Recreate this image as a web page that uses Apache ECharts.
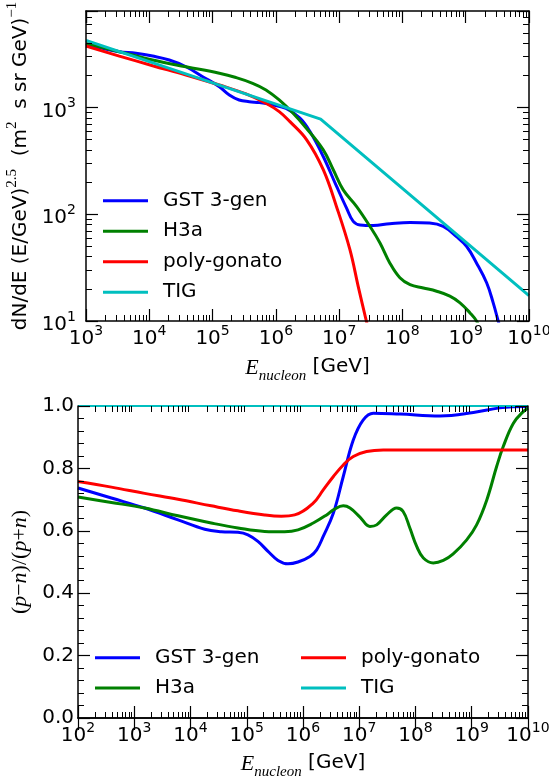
<!DOCTYPE html>
<html><head><meta charset="utf-8">
<script src="https://cdn.jsdelivr.net/npm/echarts@6/dist/echarts.min.js"></script>
<style>html,body{margin:0;padding:0;background:#fff}#c{width:549px;height:780px}</style>
</head><body><div id="c"></div>
<script>
// ---------- data ----------
const seriesNames = ['GST 3-gen', 'H3a', 'poly-gonato', 'TIG'];
const seriesColors = ['#0000ff', '#008000', '#ff0000', '#00bfbf'];

// top panel: E_nucleon [GeV] vs dN/dE (E/GeV)^2.5
const gstTopE = [1e3, 1.83e3, 3.36e3, 6.17e3, 1.13e4, 2.07e4, 3.8e4, 6.97e4, 1.28e5, 1.84e5, 2.63e5, 3.8e5, 5.5e5, 8.91e5, 1.45e6, 2.4e6, 3.46e6, 5.61e6, 9.12e6, 1.31e7, 1.67e7, 2.14e7, 3.47e7, 6.31e7, 1.32e8, 2.69e8, 4.42e8, 7.16e8, 1.03e9, 1.48e9, 2.14e9, 2.72e9, 3.26e9, 3.8e9];
const gstTopF = [3920, 3573, 3327, 3214, 3027, 2780, 2404, 1941, 1563, 1309, 1175, 1132, 1109, 1054, 977, 793, 594, 347, 182, 114, 85.7, 79.4, 78.5, 81.5, 83.8, 82.8, 76.9, 61.7, 50.1, 35.0, 22.8, 14.8, 10.0, 7.1];
const h3aTopE = [1e3, 3.36e3, 1.13e4, 3.8e4, 1.28e5, 2.34e5, 4.3e5, 6.98e5, 1.13e6, 1.84e6, 2.99e6, 5.61e6, 8.07e6, 1.16e7, 1.89e7, 3.07e7, 4.42e7, 6.31e7, 9.12e7, 1.32e8, 2.14e8, 3.47e8, 5.62e8, 8.13e8, 1.17e9, 1.48e9, 1.74e9];
const h3aTopF = [3981, 3327, 2780, 2404, 2089, 1905, 1683, 1459, 1175, 891, 646, 401, 261, 169, 118, 76.9, 53.8, 35.0, 25.4, 21.9, 20.4, 19.0, 17.1, 14.8, 11.9, 10.0, 7.9];
const pgTopE = [1e3, 3.36e3, 1.13e4, 3.8e4, 1.28e5, 3.37e5, 6.97e5, 1.13e6, 1.67e6, 3.07e6, 5.61e6, 9.12e6, 1.48e7, 2.0e7, 2.69e7, 3.16e7];
const pgTopF = [3758, 3027, 2460, 2014, 1622, 1337, 1094, 914, 736, 497, 261, 117, 46.6, 21.1, 10.0, 6.8];
const tigTopE = [1e3, 5.1e6, 1e10];
const tigTopF = [4250, 776, 17.3];

// bottom panel: E_nucleon [GeV] vs (p-n)/(p+n)
const gstBotE = [1e2, 3.92e2, 1.53e3, 6.0e3, 1.79e4, 3.53e4, 6.98e4, 1.05e5, 1.58e5, 2.39e5, 3.6e5, 5.41e5, 8.15e5, 1.33e6, 1.75e6, 2.29e6, 3.47e6, 5.2e6, 7.83e6, 1.17e7, 1.78e7, 5.3e7, 2.73e8, 1.07e9, 3.16e9, 1e10];
const gstBotV = [0.737, 0.705, 0.673, 0.635, 0.605, 0.597, 0.595, 0.587, 0.566, 0.534, 0.505, 0.494, 0.500, 0.518, 0.539, 0.582, 0.657, 0.774, 0.891, 0.955, 0.977, 0.974, 0.968, 0.979, 0.994, 0.998];
const h3aBotE = [1e2, 3.92e2, 1.53e3, 6.0e3, 2.34e4, 6.98e4, 2.08e5, 4.72e5, 8.15e5, 1.52e6, 2.63e6, 3.47e6, 5.2e6, 6.85e6, 1.03e7, 1.55e7, 2.04e7, 3.07e7, 4.61e7, 6.03e7, 7.94e7, 1.05e8, 1.38e8, 2.07e8, 3.12e8, 4.68e8, 8.13e8, 1.22e9, 1.85e9, 2.77e9, 3.63e9, 5.5e9, 8.24e9, 1e10];
const h3aBotV = [0.708, 0.691, 0.673, 0.648, 0.625, 0.609, 0.598, 0.597, 0.603, 0.625, 0.651, 0.667, 0.680, 0.673, 0.644, 0.614, 0.619, 0.651, 0.673, 0.662, 0.609, 0.550, 0.513, 0.497, 0.505, 0.526, 0.571, 0.619, 0.699, 0.806, 0.870, 0.945, 0.982, 0.993];
const pgBotE = [1e2, 3.92e2, 1.53e3, 6.0e3, 2.34e4, 6.98e4, 2.08e5, 4.12e5, 7.11e5, 1.52e6, 2.29e6, 3.47e6, 5.2e6, 7.83e6, 1.35e7, 2.67e7, 2e8, 1.6e9, 1e10];
const pgBotV = [0.758, 0.740, 0.720, 0.701, 0.680, 0.664, 0.651, 0.647, 0.651, 0.689, 0.731, 0.774, 0.811, 0.838, 0.854, 0.859, 0.859, 0.859, 0.859];
const tigBotE = [1e2, 1e10];
const tigBotV = [1.0, 1.0];

// axis ranges / ticks
const topXRange = [1e3, 1e10];
const topYRange = [10, 8000];
const botXRange = [1e2, 1e10];
const botYRange = [0, 1];
const minorMultipliers = [2, 3, 4, 5, 6, 7, 8, 9];

// ---------- helpers ----------
const pairs = (xs, ys) => xs.map((x, i) => [x, ys[i]]);
function minorTicks(lo, hi) {
  const out = [];
  for (let d = lo; d < hi; d *= 10) minorMultipliers.forEach(m => { if (d * m < hi) out.push(d * m); });
  return out;
}
function powLabel(v) {
  const l = Math.log10(v), e = Math.round(l);
  if (Math.abs(l - e) > 1e-6) return '';
  return '{b|10}{s|' + e + '}';
}
const F = 'DejaVu Sans';
const tickRich = {
  b: { fontFamily: F, fontSize: 20, color: '#000', lineHeight: 22, padding: [5, 0, 0, 0], verticalAlign: 'top' },
  s: { fontFamily: F, fontSize: 14, color: '#000', lineHeight: 16, verticalAlign: 'top' }
};
const axLine = { show: true, lineStyle: { color: '#000', width: 1.5 } };
const majTick = { show: true, inside: true, length: 12, lineStyle: { color: '#000', width: 1.2 } };
const minTick = (vals) => ({ show: true, inside: true, length: 6, customValues: vals, lineStyle: { color: '#000', width: 1 } });
const noLabel = { show: false };
const noSplit = { show: false };

const xNameRich = {
  e: { fontFamily: 'Liberation Serif', fontStyle: 'italic', fontSize: 22, color: '#000', lineHeight: 24, verticalAlign: 'top' },
  u: { fontFamily: 'Liberation Serif', fontStyle: 'italic', fontSize: 15, color: '#000', lineHeight: 16, padding: [12, 0, 0, 0], verticalAlign: 'top' },
  g: { fontFamily: F, fontSize: 20, color: '#000', lineHeight: 24, verticalAlign: 'top' }
};
const xName = '{e|E}{u|nucleon}{g| [GeV]}';

function logX(grid, pos, range, opts) {
  return Object.assign({ type: 'log', logBase: 10, gridIndex: grid, position: pos, min: range[0], max: range[1], z: 5,
    axisLine: axLine, axisTick: majTick, axisLabel: noLabel, splitLine: noSplit, minorTick: { show: false } }, opts || {});
}
function logMinor(grid, pos, range) {
  return { type: 'log', logBase: 10, gridIndex: grid, position: pos, min: range[0], max: range[1], z: 5,
    axisLine: { show: false }, axisTick: minTick(minorTicks(range[0], range[1])), axisLabel: noLabel, splitLine: noSplit };
}

const xAxis = [
  logX(0, 'bottom', topXRange, {
    axisLabel: { show: true, margin: 3, formatter: powLabel, rich: tickRich },
    name: xName, nameLocation: 'middle', nameGap: 36, nameTextStyle: { rich: xNameRich }
  }),
  logX(0, 'top', topXRange),
  logMinor(0, 'bottom', topXRange),
  logMinor(0, 'top', topXRange),
  logX(1, 'bottom', botXRange, {
    axisLabel: { show: true, margin: 3, formatter: powLabel, rich: tickRich },
    name: xName, nameLocation: 'middle', nameGap: 35, nameTextStyle: { rich: xNameRich }
  }),
  logX(1, 'top', botXRange),
  logMinor(1, 'bottom', botXRange),
  logMinor(1, 'top', botXRange)
];

const yNameTopRich = {
  t: { fontFamily: F, fontSize: 20, color: '#000', lineHeight: 22, padding: [6, 0, 0, 0], verticalAlign: 'top' },
  s: { fontFamily: 'Liberation Serif', fontSize: 15, color: '#000', lineHeight: 16, verticalAlign: 'top' }
};
const yNameBotRich = {
  r: { fontFamily: 'Liberation Serif', fontSize: 22, color: '#000', lineHeight: 24 },
  i: { fontFamily: 'Liberation Serif', fontStyle: 'italic', fontSize: 22, color: '#000', lineHeight: 24 }
};
const linTick = { show: true, inside: true, length: 12, lineStyle: { color: '#000', width: 1.2 } };
const linMinor = { show: true, splitNumber: 5, length: 6, lineStyle: { color: '#000', width: 1 } };

const yAxis = [
  logX(0, 'left', topYRange, {
    axisLabel: { show: true, margin: 10, formatter: powLabel, rich: tickRich },
    name: '{t|dN/dE (E/GeV)}{s|2.5}{t|  (m}{s|2}{t|  s sr GeV)}{s|−1}', nameLocation: 'middle', nameGap: 46,
    nameTextStyle: { rich: yNameTopRich }
  }),
  logX(0, 'right', topYRange),
  logMinor(0, 'left', topYRange),
  logMinor(0, 'right', topYRange),
  { type: 'value', gridIndex: 1, position: 'left', min: botYRange[0], max: botYRange[1], interval: 0.2, z: 5,
    axisLine: axLine, axisTick: linTick, minorTick: linMinor, splitLine: noSplit, minorSplitLine: { show: false },
    axisLabel: { show: true, margin: 4, fontFamily: F, fontSize: 20, color: '#000', formatter: v => v.toFixed(1) },
    name: '{r|(}{i|p}{r|−}{i|n}{r|)/(}{i|p}{r|+}{i|n}{r|)}', nameLocation: 'middle', nameGap: 44,
    nameTextStyle: { rich: yNameBotRich } },
  { type: 'value', gridIndex: 1, position: 'right', min: botYRange[0], max: botYRange[1], interval: 0.2, z: 5,
    axisLine: axLine, axisTick: linTick, minorTick: linMinor, splitLine: noSplit, axisLabel: noLabel }
];

const topData = [pairs(gstTopE, gstTopF), pairs(h3aTopE, h3aTopF), pairs(pgTopE, pgTopF), pairs(tigTopE, tigTopF)];
const botData = [pairs(gstBotE, gstBotV), pairs(h3aBotE, h3aBotV), pairs(pgBotE, pgBotV), pairs(tigBotE, tigBotV)];

const series = [];
seriesNames.forEach((n, i) => {
  series.push({ type: 'line', name: n, xAxisIndex: 0, yAxisIndex: 0, data: topData[i], showSymbol: false,
    smooth: i === 3 ? false : 0.4, lineStyle: { width: 3, color: seriesColors[i] }, itemStyle: { color: seriesColors[i] }, z: 2 });
});
seriesNames.forEach((n, i) => {
  // the TIG ratio lies exactly on the frame at 1.0, where the spine mostly hides it
  series.push({ type: 'line', name: n, xAxisIndex: 4, yAxisIndex: 4, data: botData[i], showSymbol: false,
    smooth: i === 3 ? false : 0.4, lineStyle: { width: i === 3 ? 2 : 3, color: seriesColors[i] }, itemStyle: { color: seriesColors[i] }, z: 2 });
});

const legendBase = { orient: 'vertical', icon: 'rect', itemWidth: 45, itemHeight: 3, selectedMode: false,
  textStyle: { fontFamily: F, fontSize: 20, color: '#000', lineHeight: 20, padding: [0, 0, 0, 10] } };

const option = {
  animation: false,
  backgroundColor: '#fff',
  grid: [
    { left: 86, top: 11, width: 443, height: 310, containLabel: false, outerBoundsMode: 'none' },
    { left: 78, top: 406, width: 450, height: 312, containLabel: false, outerBoundsMode: 'none' }
  ],
  legend: [
    Object.assign({}, legendBase, { left: 98, top: 185.7, itemGap: 10.5, data: seriesNames }),
    Object.assign({}, legendBase, { left: 90, top: 642.7, itemGap: 10.3, data: [seriesNames[0], seriesNames[1]] }),
    Object.assign({}, legendBase, { left: 296, top: 642.7, itemGap: 10.3, data: [seriesNames[2], seriesNames[3]] })
  ],
  xAxis: xAxis,
  yAxis: yAxis,
  series: series
};
const chart = echarts.init(document.getElementById('c'), null, { renderer: 'canvas' });
chart.setOption(option);
</script></body></html>
